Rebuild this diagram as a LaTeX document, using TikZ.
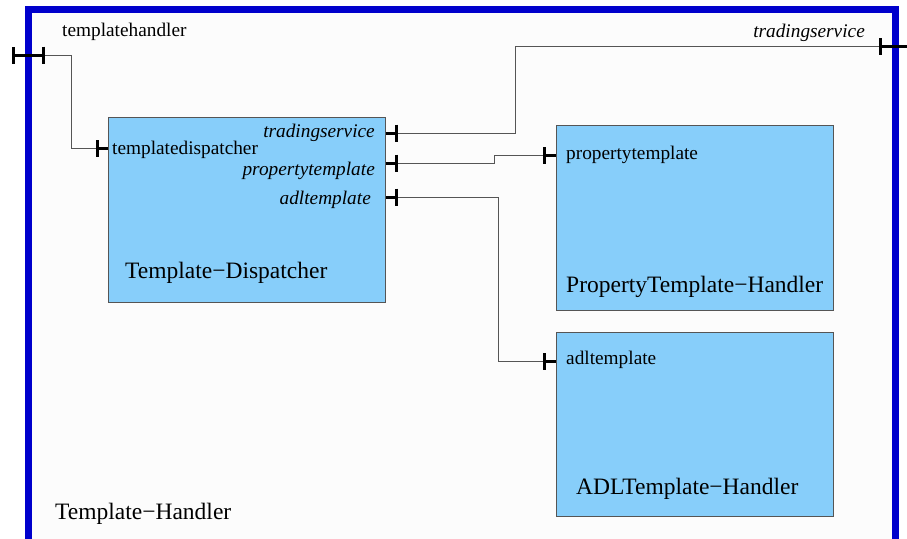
\documentclass[tikz,border=0pt]{standalone}
\usepackage{fontspec}
\setmainfont{Liberation Serif}
\usetikzlibrary{arrows.meta}
\definecolor{boxblue}{HTML}{87CEFA}
\definecolor{framblue}{rgb}{0,0,0.8}
\definecolor{wiregray}{HTML}{555555}
\newcommand{\smalltxt}{\fontsize{19.3}{21}\selectfont}
\newcommand{\bigtxt}{\fontsize{23.5}{25}\selectfont}
\begin{document}
\begin{tikzpicture}[x=1pt,y=-1pt,
    comp/.style={draw=wiregray,fill=boxblue,line width=0.8pt,minimum width=277,minimum height=185,anchor=north west,inner sep=0},
    lbl/.style={inner sep=0,font=\smalltxt},
    title/.style={inner sep=0,anchor=west,font=\bigtxt},
    wire/.style={draw=wiregray,line width=0.8pt},
    port/.style={line width=3pt,-{Bar[width=17pt,line width=3pt]}},
    inport/.style={line width=3pt,{Bar[width=17pt,line width=3pt]}-}]
  \useasboundingbox (0,0) rectangle (907,538);
  \fill[white] (0,0) rectangle (907,538);
  \fill[black!1] (28.5,9.5) rectangle (895,545);
  \draw[framblue,line width=7pt] (28.5,545) -- (28.5,9.5) -- (895,9.5) -- (895,545);

  \node[comp] (disp) at (108,117) {};
  \node[comp] (prop) at (556,125) {};
  \node[comp,minimum height=184] (adl) at (556,332) {};

  \node[lbl,anchor=west] (thlbl) at (62,32) {templatehandler};
  \node[lbl,anchor=east] (tslbl) at (865,33) {\itshape tradingservice};
  \node[lbl,anchor=west] (tdlbl) at (112,150) {templatedispatcher};
  \node[lbl,anchor=east] (dtslbl) at (375,133) {\itshape tradingservice};
  \node[lbl,anchor=east] (dptlbl) at (375,171) {\itshape propertytemplate};
  \node[lbl,anchor=east] (dadlbl) at (371,200) {\itshape adltemplate};
  \node[lbl,anchor=west] (ptlbl) at (566,155) {propertytemplate};
  \node[lbl,anchor=west] (adlbl) at (566,360) {adltemplate};

  \node[title] (disptitle) at (125,273) {Template−Dispatcher};
  \node[title] (proptitle) at (566,287) {PropertyTemplate−Handler};
  \node[title] (adltitle) at (576,489) {ADLTemplate−Handler};
  \node[title] (handtitle) at (55,514) {Template−Handler};

  \coordinate (thout) at (12,55);
  \coordinate (thin) at (45,55);
  \coordinate (tsin) at (879,46);
  \coordinate (tsout) at (907,46);
  \draw[line width=3pt,{Bar[width=17pt,line width=3pt]}-{Bar[width=17pt,line width=3pt]}] (thout) -- (thin);
  \draw[inport] (tsin) -- (tsout);

  \draw[inport] (96,148) coordinate (tdport) -- (disp.west |- tdport);
  \draw[port] (disp.east |- 0,133) -- ++(12,0) coordinate (tsport);
  \draw[port] (disp.east |- 0,163) -- ++(12,0) coordinate (ptport);
  \draw[port] (disp.east |- 0,197) -- ++(12,0) coordinate (adport);
  \draw[inport] (543,155) coordinate (ptin) -- (prop.west |- ptin);
  \draw[inport] (543,361) coordinate (adin) -- (adl.west |- adin);

  \draw[wire] (thin) -- ++(26,0) |- (tdport);
  \draw[wire] (tsport) -- ++(118,0) |- (tsin);
  \draw[wire] (ptport) -- ++(97,0) |- (ptin);
  \draw[wire] (adport) -- ++(101,0) |- (adin);
\end{tikzpicture}
\end{document}
